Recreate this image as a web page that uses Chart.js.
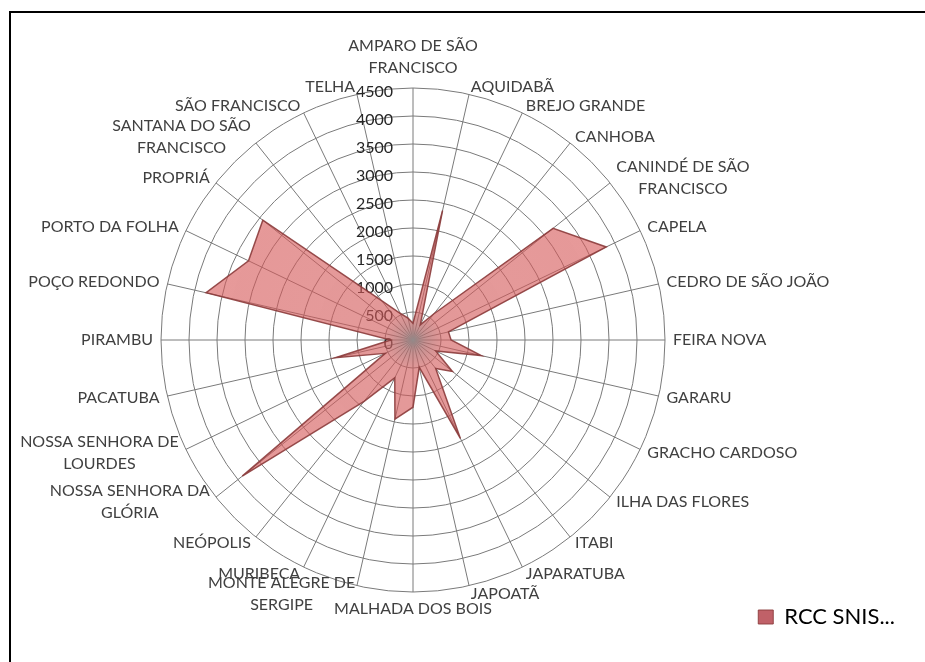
<!DOCTYPE html>
<html>
<head>
<meta charset="utf-8">
<script src="https://cdn.jsdelivr.net/npm/chart.js@4/dist/chart.umd.min.js"></script>
<style>
  body { margin: 0; background: #fff; }
  #wrap { position: relative; width: 925px; height: 662px; }
  #frame { position: absolute; left: 9px; top: 11px; width: 930px; height: 680px;
           border-left: 2px solid #000; border-top: 2px solid #000; pointer-events: none; }
  canvas { position: absolute; left: 0; top: 0; }
</style>
</head>
<body>
<div id="wrap">
  <canvas id="myChart" width="925" height="662"></canvas>
  <div id="frame"></div>
</div>
<script>
const municipios = [
  ['AMPARO DE SÃO', 'FRANCISCO'], 'AQUIDABÃ', 'BREJO GRANDE', 'CANHOBA',
  ['CANINDÉ DE SÃO', 'FRANCISCO'], 'CAPELA', 'CEDRO DE SÃO JOÃO', 'FEIRA NOVA',
  'GARARU', 'GRACHO CARDOSO', 'ILHA DAS FLORES', 'ITABI', 'JAPARATUBA', 'JAPOATÃ',
  'MALHADA DOS BOIS', ['MONTE ALEGRE DE', 'SERGIPE'], 'MURIBECA', 'NEÓPOLIS',
  ['NOSSA SENHORA DA', 'GLÓRIA'], ['NOSSA SENHORA DE', 'LOURDES'], 'PACATUBA',
  'PIRAMBU', 'POÇO REDONDO', 'PORTO DA FOLHA', 'PROPRIÁ',
  ['SANTANA DO SÃO', 'FRANCISCO'], 'SÃO FRANCISCO', 'TELHA'
];
const rccSnis = [
  300, 2370, 300, 600, 3200, 3830, 650, 680,
  1250, 450, 900, 650, 1950, 500,
  1200, 1450, 750, 1400,
  3900, 550, 1420,
  400, 3790, 3260, 3430,
  900, 530, 400
];
const escala = [0, 500, 1000, 1500, 2000, 2500, 3000, 3500, 4000, 4500];
const serieNome = 'RCC SNIS...';

// radar placement on the page
const centroX = 413;
const centroY = 340;
const raio = 252;

// tick labels drawn right-aligned left of the vertical axis, under the fill
const tickLabels = {
  id: 'tickLabels',
  beforeDatasetsDraw(chart) {
    const r = chart.scales.r;
    const ctx = chart.ctx;
    ctx.save();
    ctx.font = '16px Lato';
    ctx.fillStyle = '#262626';
    ctx.textAlign = 'right';
    ctx.textBaseline = 'middle';
    escala.forEach(v => {
      const d = r.getDistanceFromCenterForValue(v);
      ctx.fillText(String(v), r.xCenter - 20, r.yCenter - d + 4);
    });
    ctx.restore();
  }
};

// category labels: centred vertically on the spoke end, wrapped lines centred
const rotulos = {
  id: 'rotulos',
  afterDraw(chart) {
    const r = chart.scales.r;
    const ctx = chart.ctx;
    const lh = 22;
    ctx.save();
    ctx.font = '16px Lato';
    ctx.fillStyle = '#404040';
    ctx.textAlign = 'center';
    ctx.textBaseline = 'middle';
    municipios.forEach((lab, i) => {
      const lines = Array.isArray(lab) ? lab : [lab];
      const p = r.getPointPosition(i, r.drawingArea + 8);
      const dx = p.x - r.xCenter;
      const w = Math.max(...lines.map(l => ctx.measureText(l).width));
      let cx, y0;
      if (Math.abs(dx) < 1) {
        cx = p.x;
        y0 = p.y < r.yCenter ? p.y - 12 - (lines.length - 1) * lh : p.y + 9;
      } else {
        cx = dx > 0 ? p.x + w / 2 : p.x - w / 2;
        y0 = p.y - (lines.length - 1) * lh / 2;
      }
      lines.forEach((l, k) => ctx.fillText(l, cx, y0 + k * lh));
    });
    ctx.restore();
  }
};

function fillGradient(context) {
  const chart = context.chart;
  const r = chart.scales.r;
  if (!r || !r.drawingArea) return 'rgba(215, 85, 85, 0.6)';
  const g = chart.ctx.createRadialGradient(r.xCenter, r.yCenter, 0, r.xCenter, r.yCenter, r.drawingArea);
  g.addColorStop(0, 'rgba(150, 140, 140, 0.95)');
  g.addColorStop(0.05, 'rgba(180, 110, 110, 0.75)');
  g.addColorStop(0.12, 'rgba(210, 90, 90, 0.62)');
  g.addColorStop(1, 'rgba(215, 85, 85, 0.6)');
  return g;
}

const ctx = document.getElementById('myChart').getContext('2d');
const myChart = new Chart(ctx, {
  type: 'radar',
  data: {
    labels: municipios,
    datasets: [{
      label: serieNome,
      data: rccSnis,
      backgroundColor: fillGradient,
      borderColor: 'rgba(140, 60, 60, 0.9)',
      borderWidth: 1.5,
      pointRadius: 0,
      fill: true
    }]
  },
  options: {
    responsive: false,
    animation: false,
    layout: { padding: { top: 20, bottom: 24, left: 14, right: 20 } },
    plugins: {
      legend: {
        position: 'bottom',
        align: 'end',
        labels: {
          font: { family: 'Lato', size: 22 },
          color: '#262626',
          boxWidth: 15,
          boxHeight: 14,
          generateLabels: chart => [{
            text: serieNome,
            fillStyle: 'rgba(185, 80, 88, 0.9)',
            strokeStyle: 'rgba(140, 60, 60, 0.9)',
            lineWidth: 1,
            datasetIndex: 0
          }]
        }
      },
      tooltip: { enabled: false }
    },
    scales: {
      r: {
        min: 0,
        max: 4500,
        ticks: { stepSize: 500, display: false },
        grid: { color: '#7a7a7a', lineWidth: 1, circular: true },
        angleLines: { color: '#7a7a7a', lineWidth: 1 },
        pointLabels: { display: false },
        afterSetDimensions(scale) {
          scale.xCenter = centroX;
          scale.yCenter = centroY;
          scale.drawingArea = raio;
        }
      }
    }
  },
  plugins: [tickLabels, rotulos]
});
</script>
</body>
</html>
